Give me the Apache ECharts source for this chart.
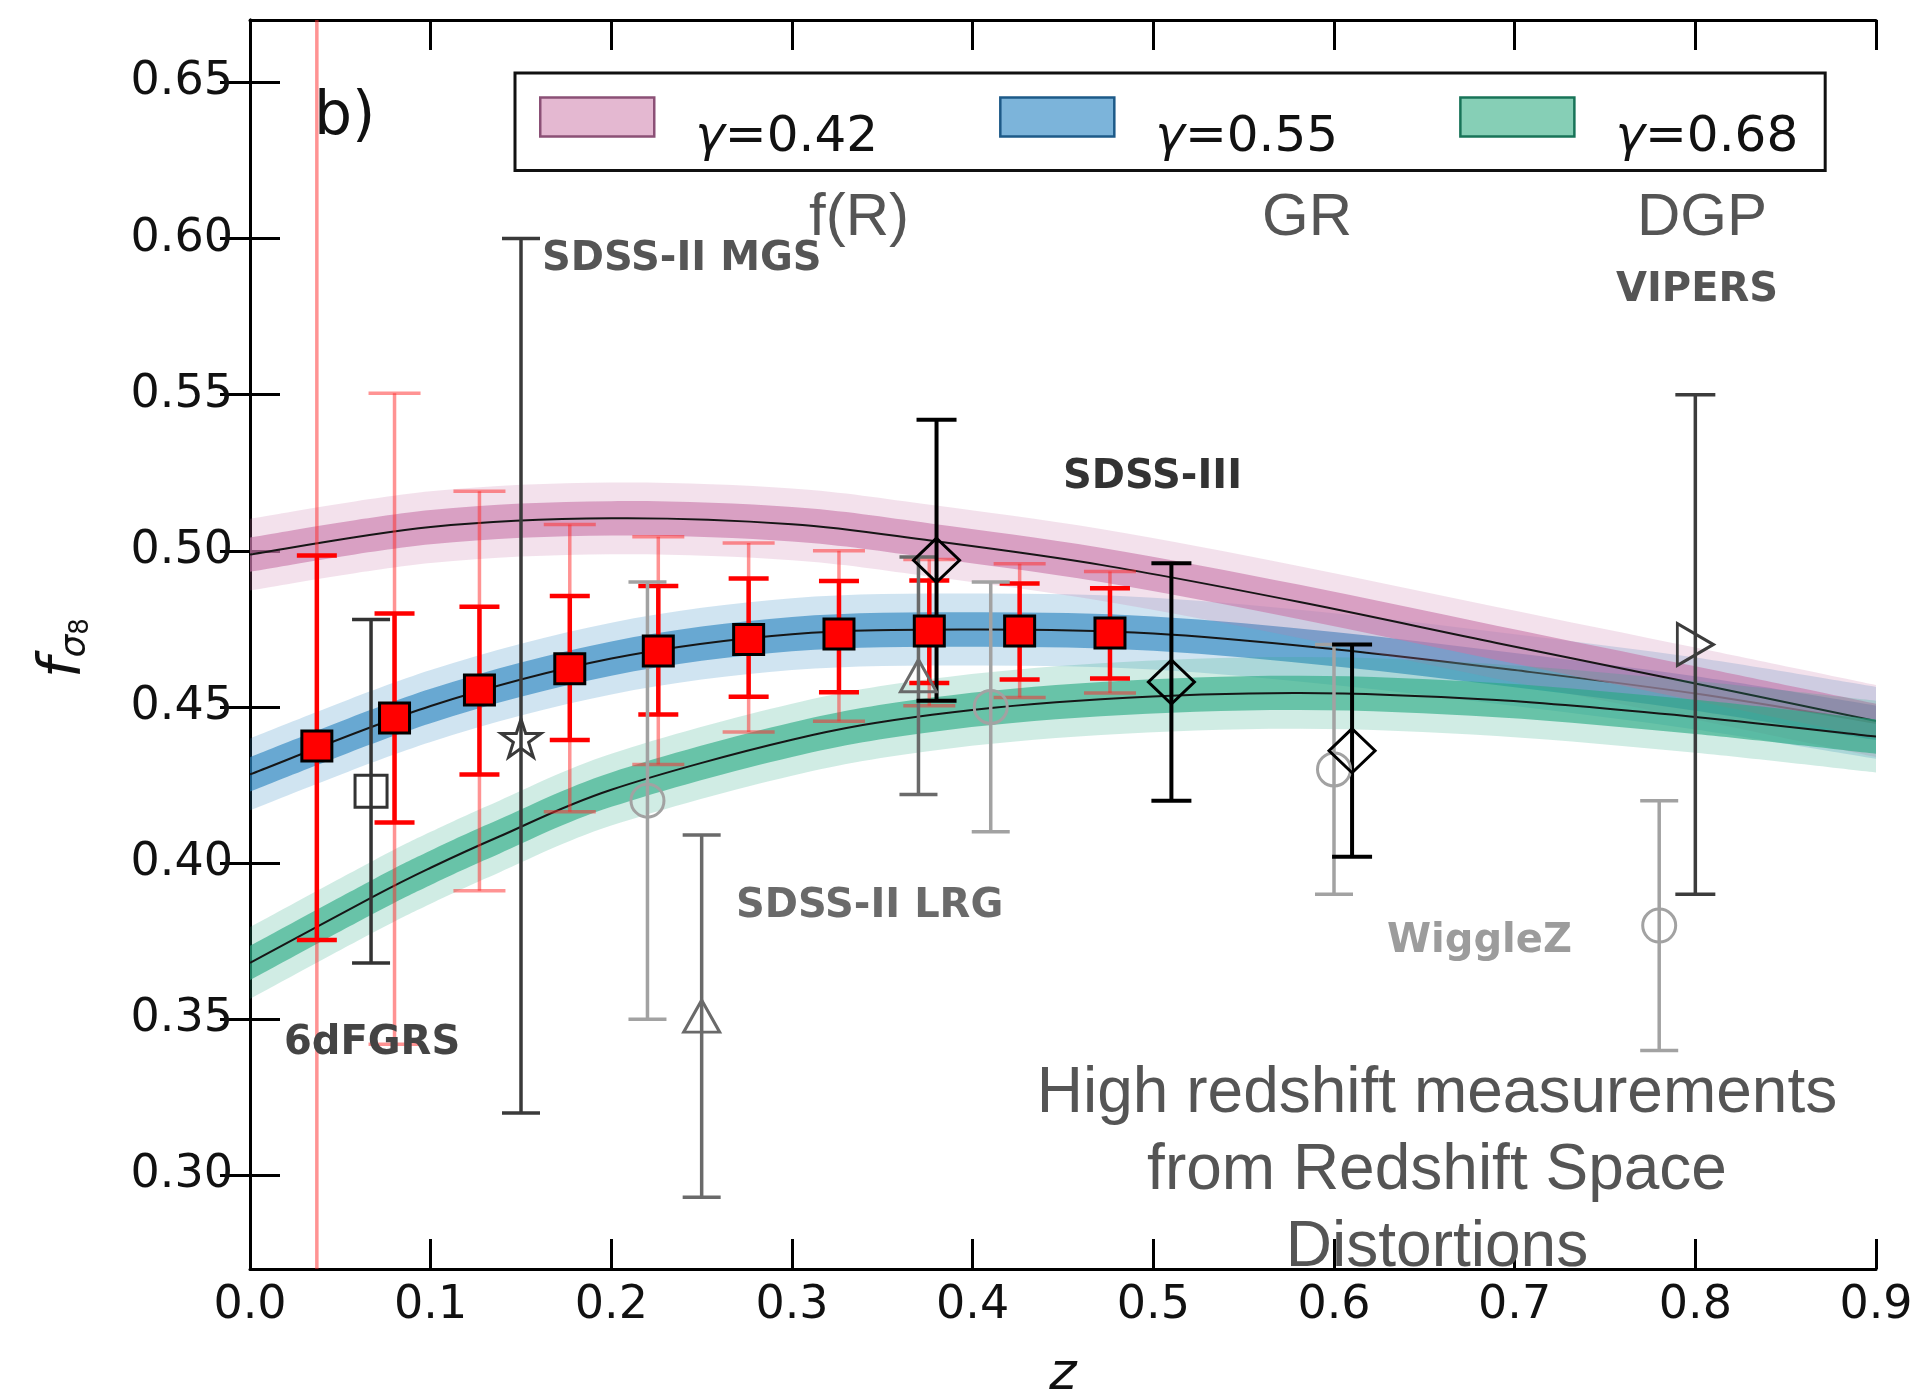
<!DOCTYPE html>
<html>
<head>
<meta charset="utf-8">
<script src="https://cdn.jsdelivr.net/npm/echarts@6/dist/echarts.min.js"></script>
<style>
  html, body { margin: 0; padding: 0; background: #fff; }
  #chart { width: 1920px; height: 1398px; }
</style>
</head>
<body>
<div id="chart"></div>
<script>
// growth-rate model curves
const pinkZ = [0, 0.1, 0.2, 0.3, 0.3775, 0.471, 0.581, 0.69, 0.8, 0.9]
const pinkF = [0.4988, 0.5076, 0.5104, 0.5085, 0.5032, 0.4955, 0.4836, 0.4705, 0.4575, 0.4455]
const blueZ = [0, 0.1, 0.2, 0.3, 0.4, 0.5, 0.6, 0.7, 0.8, 0.9]
const blueF = [0.4284, 0.4503, 0.4655, 0.4733, 0.4748, 0.4735, 0.4685, 0.4618, 0.4543, 0.4449]
const greenZ = [0, 0.069, 0.1, 0.138, 0.2, 0.3, 0.3775, 0.471, 0.581, 0.69, 0.8, 0.9]
const greenF = [0.368, 0.3895, 0.3985, 0.4085, 0.4235, 0.4395, 0.4475, 0.4525, 0.4545, 0.4522, 0.4468, 0.4405]
// half widths of the two shaded bands
const bandDark = 0.0055
const bandLight = 0.0115

// forecast points (red squares)
const redZ = [0.037, 0.080, 0.127, 0.177, 0.226, 0.276, 0.326, 0.376, 0.426, 0.476]
const redF = [0.4375, 0.4465, 0.4554, 0.4622, 0.4679, 0.4716, 0.4734, 0.4743, 0.4743, 0.4737]
const redInnerLo = [0.3754, 0.413, 0.4284, 0.4394, 0.4476, 0.4533, 0.4547, 0.4577, 0.4588, 0.4591]
const redInnerHi = [0.4985, 0.4799, 0.4821, 0.4855, 0.4887, 0.4911, 0.4903, 0.4905, 0.4895, 0.488]
const redOuterLo = [0.2, 0.342, 0.3911, 0.4164, 0.4316, 0.442, 0.4454, 0.4504, 0.453, 0.4545]
const redOuterHi = [0.75, 0.5505, 0.5191, 0.5084, 0.5045, 0.5025, 0.5, 0.4972, 0.4959, 0.4934]

// measurements
const sixdfZ = [0.067], sixdfF = [0.423], sixdfLo = [0.368], sixdfHi = [0.478]
const mgsZ = [0.15], mgsF = [0.44], mgsLo = [0.32], mgsHi = [0.60]
const lrgZ = [0.25, 0.37], lrgF = [0.351, 0.460], lrgLo = [0.293, 0.422], lrgHi = [0.409, 0.498]
const wigZ = [0.22, 0.41, 0.60, 0.78], wigF = [0.42, 0.45, 0.43, 0.38]
const wigLo = [0.35, 0.41, 0.39, 0.34], wigHi = [0.49, 0.49, 0.47, 0.42]
const bossZ = [0.38, 0.51, 0.61], bossF = [0.497, 0.458, 0.436]
const bossLo = [0.452, 0.420, 0.402], bossHi = [0.542, 0.496, 0.470]
const vipersZ = [0.80], vipersF = [0.47], vipersLo = [0.39], vipersHi = [0.55]

const yTicks = [0.30, 0.35, 0.40, 0.45, 0.50, 0.55, 0.60, 0.65]
const legendNames = ['γ=0.42', 'γ=0.55', 'γ=0.68']

const chart = echarts.init(document.getElementById('chart'))

const pairs = (xs, ys) => xs.map((x, i) => [x, ys[i]])

// smooth path (catmull-rom -> bezier) through pixel points
const curveCmds = (pts, start) => {
  let d = start + pts[0][0] + ',' + pts[0][1]
  for (let i = 0; i < pts.length - 1; i++) {
    const p0 = pts[Math.max(i - 1, 0)], p1 = pts[i], p2 = pts[i + 1], p3 = pts[Math.min(i + 2, pts.length - 1)]
    const c1 = [p1[0] + (p2[0] - p0[0]) / 6, p1[1] + (p2[1] - p0[1]) / 6]
    const c2 = [p2[0] - (p3[0] - p1[0]) / 6, p2[1] - (p3[1] - p1[1]) / 6]
    d += ' C' + c1[0] + ',' + c1[1] + ' ' + c2[0] + ',' + c2[1] + ' ' + p2[0] + ',' + p2[1]
  }
  return d
}

// model: light band, dark band and centre line, drawn once per series
const modelSeries = (name, zs, fs, rgb) => ({
  type: 'custom', name: name, silent: true, clip: true, z: 1,
  data: pairs(zs, fs),
  encode: { x: 0, y: 1 },
  renderItem: (params, api) => {
    if (params.dataIndex !== 0) return null
    const edge = dw => zs.map((z, i) => api.coord([z, fs[i] + dw]))
    const bandPath = w => {
      const up = edge(w), lo = edge(-w).reverse()
      return curveCmds(up, 'M') + ' ' + curveCmds(lo, 'L') + ' Z'
    }
    return {
      type: 'group',
      children: [
        { type: 'path', shape: { pathData: bandPath(bandLight) }, style: { fill: 'rgba(' + rgb + ',0.22)', stroke: null } },
        { type: 'path', shape: { pathData: bandPath(bandDark) }, style: { fill: 'rgba(' + rgb + ',0.62)', stroke: null } },
        { type: 'path', shape: { pathData: curveCmds(edge(0), 'M') }, style: { fill: null, stroke: '#161616', lineWidth: 2 } }
      ]
    }
  }
})

const errorBars = (zs, lo, hi, color, width, cap) => ({
  type: 'custom', silent: true, clip: true, z: 3,
  data: zs.map((z, i) => [z, lo[i], hi[i]]),
  encode: { x: 0, y: [1, 2] },
  renderItem: (params, api) => {
    const a = api.coord([api.value(0), api.value(1)])
    const b = api.coord([api.value(0), api.value(2)])
    const h = cap / 2
    const style = { stroke: color, lineWidth: width, fill: null }
    return {
      type: 'group',
      children: [
        { type: 'line', shape: { x1: a[0], y1: a[1], x2: b[0], y2: b[1] }, style: style },
        { type: 'line', shape: { x1: a[0] - h, y1: a[1], x2: a[0] + h, y2: a[1] }, style: style },
        { type: 'line', shape: { x1: b[0] - h, y1: b[1], x2: b[0] + h, y2: b[1] }, style: style }
      ]
    }
  }
})

const markers = (zs, fs, symbol, size, fill, border, extra) => Object.assign({
  type: 'scatter', data: pairs(zs, fs), symbol: symbol, symbolSize: size, z: 5, silent: true,
  itemStyle: { color: fill, borderColor: border, borderWidth: 3, opacity: 1 }
}, extra || {})

const starPath = 'path://M50,2 L61,36 L97,36 L68,57 L79,92 L50,71 L21,92 L32,57 L3,36 L39,36 Z'
const none = 'rgba(0,0,0,0)'

const series = [
  modelSeries(legendNames[1], blueZ, blueF, '40,130,190'),
  modelSeries(legendNames[0], pinkZ, pinkF, '200,120,170'),
  modelSeries(legendNames[2], greenZ, greenF, '40,170,130'),
  errorBars(redZ, redOuterLo, redOuterHi, 'rgba(255,40,40,0.5)', 3.5, 52),
  errorBars(redZ, redInnerLo, redInnerHi, '#ff0000', 4.5, 40),
  errorBars(sixdfZ, sixdfLo, sixdfHi, '#333333', 3.5, 38),
  errorBars(mgsZ, mgsLo, mgsHi, '#3a3a3a', 3.5, 38),
  errorBars(lrgZ, lrgLo, lrgHi, '#6a6a6a', 3.5, 38),
  errorBars(wigZ, wigLo, wigHi, '#a2a2a2', 3.5, 38),
  errorBars(bossZ, bossLo, bossHi, '#000000', 4, 40),
  errorBars(vipersZ, vipersLo, vipersHi, '#3c3c3c', 3.5, 40),
  markers(sixdfZ, sixdfF, 'rect', 32, none, '#333333'),
  markers(mgsZ, mgsF, starPath, [40, 38], none, '#3a3a3a'),
  markers(lrgZ, lrgF, 'triangle', [36, 32], none, '#6a6a6a'),
  markers(wigZ, wigF, 'circle', 33, none, '#a2a2a2'),
  markers(bossZ, bossF, 'diamond', [46, 44], none, '#000000'),
  markers(vipersZ, vipersF, 'triangle', [42, 36], none, '#3c3c3c', { symbolRotate: -90 }),
  markers(redZ, redF, 'rect', 30, '#ff0000', '#000000', { z: 6 })
]

const annot = (text, x, y, size, color, weight, family, align) => ({
  type: 'text', x: x, y: y, z: 50, silent: true,
  style: {
    text: text, fill: color, fontSize: size, fontWeight: weight || 'normal',
    fontFamily: family || 'DejaVu Sans', align: align || 'left', verticalAlign: 'middle'
  }
})

const option = {
  animation: false,
  backgroundColor: '#ffffff',
  grid: { left: 250, right: 44, top: 20, bottom: 129, outerBoundsMode: 'none' },
  legend: {
    left: 515, top: 73,
    orient: 'horizontal',
    itemWidth: 114, itemHeight: 39, itemGap: 121,
    padding: [0, 27, 7, 24],
    borderColor: '#111', borderWidth: 3, backgroundColor: '#ffffff',
    selectedMode: false,
    data: [
      { name: legendNames[0], icon: 'rect', itemStyle: { color: '#e4b8d1', borderColor: '#8b5076', borderWidth: 2.5 } },
      { name: legendNames[1], icon: 'rect', itemStyle: { color: '#7cb4da', borderColor: '#1d5a88', borderWidth: 2.5 } },
      { name: legendNames[2], icon: 'rect', itemStyle: { color: '#86cfb6', borderColor: '#187458', borderWidth: 2.5 } }
    ],
    formatter: name => '{g|γ}{t|' + name.slice(1) + '}',
    textStyle: {
      padding: [43, 0, 0, 36], lineHeight: 45, color: '#111',
      fontFamily: 'DejaVu Sans', fontSize: 50,
      rich: {
        g: { fontStyle: 'italic', fontFamily: 'DejaVu Sans', fontSize: 50, lineHeight: 45, color: '#111' },
        t: { fontFamily: 'DejaVu Sans', fontSize: 50, lineHeight: 45, color: '#111' }
      }
    }
  },
  xAxis: [
    {
      type: 'value', position: 'bottom', min: 0, max: 0.9, interval: 0.1,
      axisLine: { lineStyle: { color: '#000', width: 3 } },
      axisTick: { inside: true, length: 30, lineStyle: { color: '#000', width: 3 } },
      axisLabel: {
        margin: 14, fontSize: 46, fontFamily: 'DejaVu Sans', color: '#111',
        showMinLabel: true, showMaxLabel: true, formatter: v => v.toFixed(1)
      },
      splitLine: { show: false },
      name: 'z', nameLocation: 'middle', nameGap: 80,
      nameTextStyle: { fontSize: 52, fontStyle: 'italic', fontFamily: 'DejaVu Sans', color: '#111' }
    },
    {
      type: 'value', position: 'top', min: 0, max: 0.9, interval: 0.1,
      axisLine: { lineStyle: { color: '#000', width: 3 } },
      axisTick: { inside: true, length: 30, lineStyle: { color: '#000', width: 3 } },
      axisLabel: { show: false },
      splitLine: { show: false }
    }
  ],
  yAxis: [
    {
      type: 'value', position: 'left', min: 0.27, max: 0.67,
      axisLine: { show: true, lineStyle: { color: '#000', width: 3 } },
      axisTick: { show: true, inside: true, length: 30, customValues: yTicks, lineStyle: { color: '#000', width: 3 } },
      axisLabel: {
        margin: 17, fontSize: 46, fontFamily: 'DejaVu Sans', color: '#111',
        customValues: yTicks, formatter: v => v.toFixed(2)
      },
      splitLine: { show: false }
    },
    {
      type: 'value', position: 'right', min: 0.27, max: 0.67,
      axisLine: { show: true, lineStyle: { color: '#000', width: 3 } },
      axisTick: { show: true, inside: true, length: 30, customValues: yTicks, lineStyle: { color: '#000', width: 3 } },
      axisLabel: { show: false },
      splitLine: { show: false }
    }
  ],
  graphic: {
    elements: [
      annot('b)', 314, 118, 60, '#111'),
      annot('SDSS-II MGS', 542, 260, 40, '#555', 'bold'),
      annot('SDSS-III', 1063, 478, 40, '#333', 'bold'),
      annot('VIPERS', 1616, 291, 40, '#555', 'bold'),
      annot('SDSS-II LRG', 736, 907, 40, '#6a6a6a', 'bold'),
      annot('WiggleZ', 1387, 942, 40, '#9c9c9c', 'bold'),
      annot('6dFGRS', 284, 1044, 40, '#444', 'bold'),
      annot('f(R)', 859, 218, 60, '#555', 'normal', 'Liberation Sans', 'center'),
      annot('GR', 1307, 218, 60, '#555', 'normal', 'Liberation Sans', 'center'),
      annot('DGP', 1702, 218, 60, '#555', 'normal', 'Liberation Sans', 'center'),
      {
        type: 'text', x: 1437, y: 1171, z: 50, silent: true,
        style: {
          text: 'High redshift measurements\nfrom Redshift Space\nDistortions',
          fill: '#555', fontSize: 64, fontFamily: 'Liberation Sans', lineHeight: 77,
          align: 'center', verticalAlign: 'middle'
        }
      },
      {
        type: 'text', x: 64, y: 648, rotation: Math.PI / 2, z: 50, silent: true,
        style: {
          text: '{f|f}{s|σ}{n|8}',
          align: 'center', verticalAlign: 'middle',
          rich: {
            f: { fontSize: 58, fontStyle: 'italic', fontFamily: 'DejaVu Sans', fill: '#111', lineHeight: 60, verticalAlign: 'bottom' },
            s: { fontSize: 36, fontStyle: 'italic', fontFamily: 'DejaVu Sans', fill: '#111', lineHeight: 60, verticalAlign: 'bottom' },
            n: { fontSize: 26, fontFamily: 'DejaVu Sans', fill: '#111', lineHeight: 60, verticalAlign: 'bottom' }
          }
        }
      }
    ]
  },
  series: series
}

chart.setOption(option)
</script>
</body>
</html>
